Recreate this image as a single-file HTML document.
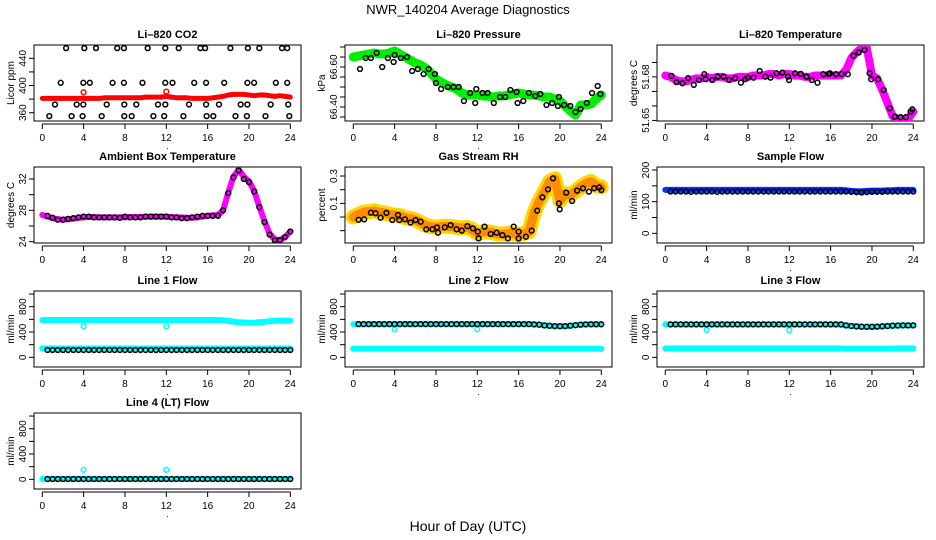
<!DOCTYPE html>
<html><head><meta charset="utf-8"><title>NWR_140204 Average Diagnostics</title>
<style>
html,body{margin:0;padding:0;background:#fff;}
svg{display:block;font-family:"Liberation Sans",Arial,sans-serif;}
</style></head>
<body>
<svg id="chart" width="936" height="540" viewBox="0 0 936 540" xmlns="http://www.w3.org/2000/svg">
<rect x="0" y="0" width="936" height="540" fill="#fff"/>
<text x="468" y="14" text-anchor="middle" font-size="13">NWR_140204  Average Diagnostics</text>
<text x="468" y="531" text-anchor="middle" font-size="14">Hour of Day (UTC)</text>
</svg>
<script>
// ---------- shared hour grids ----------
const H = [0,0.5,1,1.5,2,2.5,3,3.5,4,4.5,5,5.5,6,6.5,7,7.5,8,8.5,9,9.5,10,10.5,11,11.5,12,12.5,13,13.5,14,14.5,15,15.5,16,16.5,17,17.5,18,18.5,19,19.5,20,20.5,21,21.5,22,22.5,23,23.5,24];
const HB = [0.5,1,1.5,2,2.5,3,3.5,4,4.5,5,5.5,6,6.5,7,7.5,8,8.5,9,9.5,10,10.5,11,11.5,12,12.5,13,13.5,14,14.5,15,15.5,16,16.5,17,17.5,18,18.5,19,19.5,20,20.5,21,21.5,22,22.5,23,23.5,24];
const xTicks = [0,4,8,12,16,20,24];

// ---------- Li-820 CO2 ----------
const co2Band = [381,381,381,381,381,381,381,381,381,381, 381,381,382,382,382,382,382,382,382,382, 383,383,383,383,384,383,382,382,382,381, 381,381,381, 382,383,384,386,387,387,387,386,385,386,386,385,384,385,384,383];
const co2OutX = [4,12];
const co2OutY = [390,391];
const co2BlkX = [2.3,4.06,5.2,7.25,7.9,10.2,11.9,13.2,15.3,15.75,18.2,19.9,21.0,23.2,23.7, 1.78,3.97,4.6,6.8,7.9,9.7,11.9,12.6,14.7,15.85,17.6,19.85,20.5,22.6,23.7, 1.23,3.33,3.97,6.23,7.94,9.1,11.2,11.9,14.2,15.85,17.1,19.2,19.85,22.1,23.8, 0.68,2.84,3.9,5.75,7.94,8.65,10.75,11.8,13.65,15.9,16.55,18.7,19.8,21.6,23.9];
const co2BlkY = [455,455,455,455,455,455,455,455,455,455,455,455,455,455,455, 404,404,404,404,404,404,404,404,404,404,404,404,404,404,404, 372,372,372,372,372,372,372,372,372,372,372,372,372,372,372, 355,355,355,355,355,355,355,355,355,355,355,355,355,355,355];

// ---------- Li-820 Pressure ----------
const presBand = [66.65,66.655,66.66,66.665,66.67,66.665,66.665,66.67,66.68,66.665, 66.65,66.635,66.62,66.61,66.595,66.57,66.54,66.525,66.51,66.5, 66.49,66.47,66.46,66.46,66.46,66.455,66.455,66.45,66.455,66.455, 66.46,66.465,66.47,66.465,66.46,66.46,66.455,66.45,66.45,66.44, 66.43,66.405,66.38,66.36,66.41,66.41,66.415,66.44,66.46];
const presBlkX = [0.65,1.2,1.7,2.25,2.8,3.35,3.9,4,4.6,5.2,5.7,6.25,6.8,7.3,7.9,8,8.5,9.15,9.7,10.2,10.7,11.3,11.8,11.9,12.5,13,13.6,14.2,14.7,15.2,15.8,15.9,16.45,17,17.6,18.1,18.7,19.25,19.8,19.9,20.4,21,21.5,22,22.6,23.1,23.65,23.9];
const presBlkY = [66.59,66.645,66.645,66.67,66.6,66.645,66.625,66.66,66.645,66.65,66.58,66.59,66.565,66.59,66.565,66.52,66.49,66.5,66.5,66.5,66.43,66.47,66.42,66.49,66.47,66.47,66.42,66.45,66.45,66.485,66.475,66.42,66.43,66.47,66.455,66.465,66.41,66.42,66.405,66.45,66.41,66.405,66.375,66.39,66.42,66.47,66.505,66.465];

// ---------- Li-820 Temperature ----------
const tempBand = [51.681,51.680,51.678,51.677,51.677,51.678,51.679,51.679,51.680,51.679, 51.680,51.680,51.679,51.679,51.680,51.680,51.680,51.681,51.681,51.681, 51.682,51.682,51.681,51.682,51.682,51.681,51.681,51.680,51.680,51.681, 51.681,51.681,51.681,51.681,51.681, 51.685,51.693,51.697,51.700,51.700,51.681,51.679,51.671,51.662,51.653,51.651,51.651,51.651,51.656];
const tempBlkX = [0.59,1.07,1.66,2.21,2.76,3.25,3.77,3.9,4.55,5.07,5.63,6.18,6.76,7.32,7.74,7.97,8.55,9.14,9.69,10.18,10.76,11.32,11.87,11.97,12.55,13.1,13.66,14.18,14.73,15.28,15.8,15.93,16.52,17.07,17.66,18.21,18.73,19.28,19.77,19.93,20.59,21.14,21.72,22.21,22.76,23.28,23.74,23.9];
const tempBlkY = [51.6807,51.6764,51.6756,51.6791,51.6745,51.6779,51.6819,51.6784,51.6779,51.6802,51.6802,51.6779,51.6791,51.676,51.6784,51.6795,51.6795,51.6841,51.6802,51.6795,51.6825,51.683,51.6802,51.6779,51.6825,51.6821,51.6802,51.6779,51.676,51.6819,51.6821,51.6825,51.6819,51.6821,51.6819,51.6947,51.6968,51.6986,51.6825,51.6784,51.6784,51.671,51.6584,51.6526,51.6522,51.6522,51.6561,51.6577];

// ---------- Ambient Box Temperature ----------
const ambBand = [27.4,27.2,27.0,26.85,26.8,26.85,26.95,27.05,27.1,27.15, 27.15,27.1,27.1,27.1,27.1,27.1,27.1,27.15,27.15,27.15, 27.2,27.2,27.2,27.2,27.2,27.15,27.1,27.1,27.05,27.05, 27.1,27.2,27.3,27.35,27.4, 28.0,30.3,32.3,33.2,32.3,31.7,30.5,28.5,26.6,25.0,24.3,24.2,24.6,25.3];
const ambBlk = [27.3,27.05,26.8,26.8,26.9,27.0,27.1,27.2,27.2,27.1, 27.1,27.1,27.1,27.1,27.05,27.2,27.1,27.1,27.1,27.2, 27.2,27.2,27.2,27.2,27.1,27.1,27.0,27.0,27.1,27.2, 27.3,27.3,27.3,27.3,28.0,30.2,32.2,33.1,32.0,31.6, 30.4,28.4,26.5,24.9,24.2,24.2,24.6,25.3];

// ---------- Gas Stream RH ----------
const rhBand = [0.0,0.02,0.035,0.04,0.045,0.035,0.03,0.02,0.015,0.01, -0.005,-0.01,-0.02,-0.04,-0.06,-0.07,-0.075,-0.07,-0.066,-0.07, -0.075,-0.08,-0.075,-0.09,-0.12,-0.11,-0.107,-0.115,-0.124,-0.125, -0.12,-0.12,-0.13,-0.12,-0.107, 0.03,0.12,0.185,0.26,0.28,0.12,0.17,0.16,0.19,0.22,0.245,0.26,0.23,0.22];
const rhBlkX = [0.5,1.05,1.7,2.15,2.64,3.2,3.77,4.33,4.45,5.0,5.54,6.03,6.52,7.05,7.65,8.1,8.2,8.85,9.42,10,10.5,11.04,11.57,12.05,12.13,12.7,13.3,13.87,14.43,14.96,15.52,16.0,16.0,16.7,17.26,17.8,18.3,18.84,19.33,19.9,19.97,20.6,21.17,21.66,22.23,22.8,23.3,23.8,24];
const rhBlkY = [-0.02,-0.017,0.032,0.027,-0.005,0.03,-0.022,0.015,-0.022,-0.017,-0.04,-0.022,-0.034,-0.09,-0.09,-0.076,-0.115,-0.076,-0.059,-0.09,-0.1,-0.066,-0.083,-0.107,-0.156,-0.07,-0.124,-0.115,-0.132,-0.156,-0.07,-0.107,-0.156,-0.144,-0.1,0.046,0.144,0.202,0.283,0.1,0.056,0.178,0.117,0.193,0.21,0.185,0.21,0.217,0.198];

// ---------- Sample Flow ----------
const sampBand = [137,137,137,137,137,137,137,137,137,137, 137,137,137,137,137,137,137,137,137,137, 137,137,137,137,137,137,137,137,137,137, 137,137,137,137,137, 136,134,133,133,134,135,135,135,136,136,137,137,137,137];
const sampBlk = [132,132,132,132,131,132,132,132,132,131, 132,132,132,132,132,132,132,132,132,132, 132,132,132,132,132,132,132,132,132,132, 132,132,132,132,132,131,130,129,130,131, 131,131,132,132,132,132,132,132];

// ---------- Line 1 Flow ----------
const l1Upper = [590,590,590,590,590,590,590,590,590,590, 590,590,590,590,590,590,590,590,590,590, 590,590,590,590,590,590,590,590,590,590, 590,590,590,590,588, 585,575,565,555,550,545,545,555,560,570,575,580,580,580];
const l1Lower = [140,140,140,140,140,140,140,140,140,140, 140,140,140,140,140,140,140,140,140,140, 140,140,140,140,140,140,140,140,140,140, 140,140,140,140,140, 140,140,140,140,140,140,140,140,140,140,140,140,140,140];
const l1Blk = [116,116,116,116,116,116,116,116,116,116, 116,116,116,116,116,116,116,116,116,116, 116,116,116,116,116,116,116,116,116,116, 116,116,116,116,116,116,116,116,116,116, 116,116,116,116,116,116,116,116];
const l1OutX = [4,12];
const l1OutY = [490,490];

// ---------- Line 2 Flow ----------
const l2Upper = [525,525,525,525,525,525,525,525,525,525, 525,525,525,525,525,525,525,525,525,525, 525,525,525,525,525,525,525,525,525,525, 525,525,525,525,525, 520,515,505,498,494,492,494,500,508,515,520,522,522,522];
const l2Lower = [135,135,135,135,135,135,135,135,135,135, 135,135,135,135,135,135,135,135,135,135, 135,135,135,135,135,135,135,135,135,135, 135,135,135,135,135, 135,135,135,135,135,135,135,135,135,135,135,135,135,135];
const l2Blk = [525,525,525,525,525,525,525,525,525,525, 525,525,525,525,525,525,525,525,525,525, 525,525,525,525,525,525,525,525,525,525, 525,525,525,525,520,515,505,498,494,492, 494,500,508,515,520,522,522,522];
const l2OutX = [4,12];
const l2OutY = [442,442];

// ---------- Line 3 Flow ----------
const l3Upper = [520,520,520,520,520,520,520,520,520,520, 520,520,520,520,520,520,520,520,520,520, 520,520,520,520,520,520,520,520,520,520, 520,520,520,520,515, 505,495,488,484,482,482,485,490,495,500,503,505,505,505];
const l3Lower = [140,140,140,140,140,140,140,140,140,140, 140,140,140,140,140,140,140,140,140,140, 140,140,140,140,140,140,140,140,140,140, 140,140,140,140,140, 135,135,135,135,135,135,135,135,135,140,140,140,140,140];
const l3Blk = [520,520,520,520,520,520,520,520,520,520, 520,520,520,520,520,520,520,520,520,520, 520,520,520,520,520,520,520,520,520,520, 520,520,520,520,505,495,488,484,482,482, 485,490,495,500,503,505,505,505];
const l3OutX = [4,12];
const l3OutY = [432,432];

// ---------- Line 4 (LT) Flow ----------
const l4Band = [5,5,5,5,5,5,5,5,5,5, 5,5,5,5,5,5,5,5,5,5, 5,5,5,5,5,5,5,5,5,5, 5,5,5,5,5, 5,5,5,5,5,5,5,5,5,5,5,5,5,5];
const l4Blk = [5,5,5,5,5,5,5,5,5,5, 5,5,5,5,5,5,5,5,5,5, 5,5,5,5,5,5,5,5,5,5, 5,5,5,5,5,5,5,5,5,5, 5,5,5,5,5,5,5,5];
const l4OutX = [4,12];
const l4OutY = [150,150];

// ---------- layout ----------
const NS = 'http://www.w3.org/2000/svg';
const svg = document.getElementById('chart');
const COL_L = [34, 345, 657];
const ROW_T = [45, 167, 291, 413];
const PW = 267, PH = 76;

function mk(tag, parent) { const e = document.createElementNS(NS, tag); parent.appendChild(e); return e; }

function makePanel(key, col, row, title, ylab, ymin, ymax, yticks, ylabels) {
  const L = COL_L[col], T = ROW_T[row], B = T + PH;
  const g = mk('g', svg);
  
  
  const x = h => L + 8.3 + h * (248 / 24);
  const y = v => T + (ymax - v) / (ymax - ymin) * PH;
  const box = mk('rect', g);
  
  
  box.setAttribute('x', L); box.setAttribute('y', T); box.setAttribute('width', PW); box.setAttribute('height', PH);
  box.setAttribute('fill', 'none'); box.setAttribute('stroke', '#000'); box.setAttribute('stroke-width', '1');
  const t = mk('text', g);
  
  
  t.setAttribute('x', L + PW / 2); t.setAttribute('y', T - 7); t.setAttribute('text-anchor', 'middle');
  t.setAttribute('font-size', '11'); t.setAttribute('font-weight', 'bold');
  t.textContent = title;
  const yl = mk('text', g);
  
  
  yl.setAttribute('transform', 'translate(' + (L - 20) + ',' + (T + PH / 2) + ') rotate(-90)');
  yl.setAttribute('text-anchor', 'middle'); yl.setAttribute('font-size', '10');
  yl.textContent = ylab;
  // y axis
  const ya = mk('line', g);
  
  
  ya.setAttribute('x1', L); ya.setAttribute('x2', L);
  ya.setAttribute('y1', y(yticks[0])); ya.setAttribute('y2', y(yticks[yticks.length - 1]));
  ya.setAttribute('stroke', '#000');
  yticks.forEach(v => {
    const tk = mk('line', g);
    
    
    tk.setAttribute('x1', L - 5); tk.setAttribute('x2', L); tk.setAttribute('y1', y(v)); tk.setAttribute('y2', y(v));
    tk.setAttribute('stroke', '#000');
  });
  ylabels.forEach(v => {
    const tl = mk('text', g);
    
    
    tl.setAttribute('transform', 'translate(' + (L - 8) + ',' + y(v) + ') rotate(-90)');
    tl.setAttribute('text-anchor', 'middle'); tl.setAttribute('font-size', '10');
    tl.textContent = String(v);
  });
  // x axis
  const xa = mk('line', g);
  
  
  xa.setAttribute('x1', x(0)); xa.setAttribute('x2', x(24)); xa.setAttribute('y1', B + 3); xa.setAttribute('y2', B + 3);
  xa.setAttribute('stroke', '#000');
  xTicks.forEach(h => {
    const tk = mk('line', g);
    
    
    tk.setAttribute('x1', x(h)); tk.setAttribute('x2', x(h)); tk.setAttribute('y1', B + 3); tk.setAttribute('y2', B + 8);
    tk.setAttribute('stroke', '#000');
    const tl = mk('text', g);
    
    
    tl.setAttribute('x', x(h)); tl.setAttribute('y', B + 20); tl.setAttribute('text-anchor', 'middle'); tl.setAttribute('font-size', '10');
    tl.textContent = String(h);
  });
  const dot = mk('text', g);
  
  
  dot.setAttribute('x', L + PW / 2); dot.setAttribute('y', B + 28); dot.setAttribute('text-anchor', 'middle'); dot.setAttribute('font-size', '9');
  dot.textContent = '.';
  // clip
  const cp = mk('clipPath', g);
  cp.setAttribute('id', 'clip-' + key);
  const cr = mk('rect', cp);
  cr.setAttribute('x', L); cr.setAttribute('y', T); cr.setAttribute('width', PW); cr.setAttribute('height', PH);
  const data = mk('g', g);
  
  
  data.setAttribute('clip-path', 'url(#clip-' + key + ')');
  return { g: data, x, y, key };
}

function drawBand(p, xs, ys, color, w, name) {
  const pl = mk('polyline', p.g);
  
  
  pl.setAttribute('points', xs.map((h, i) => p.x(h).toFixed(1) + ',' + p.y(ys[i]).toFixed(1)).join(' '));
  pl.setAttribute('fill', 'none'); pl.setAttribute('stroke', color); pl.setAttribute('stroke-width', w);
  pl.setAttribute('stroke-linejoin', 'round'); pl.setAttribute('stroke-linecap', 'round');
}

function drawPts(p, xs, ys, color, name, r) {
  xs.forEach((h, i) => {
    const c = mk('circle', p.g);
    
    
    c.setAttribute('cx', p.x(h).toFixed(1)); c.setAttribute('cy', p.y(ys[i]).toFixed(1)); c.setAttribute('r', r || 2.4);
    c.setAttribute('fill', 'none'); c.setAttribute('stroke', color); c.setAttribute('stroke-width', '1.5');
  });
}

// Row 1
let p = makePanel('co2', 0, 0, 'Li\u2013820 CO2', 'Licor ppm', 347.8, 459.6, [360,380,400,420,440], [360,400,440]);
drawBand(p, H, co2Band, '#ff0000', 5, 'co2-red-series');
drawPts(p, co2OutX, co2OutY, '#ff0000', 'co2-red-outlier');
drawPts(p, co2BlkX, co2BlkY, '#000', 'co2-black-point');

p = makePanel('pressure', 1, 0, 'Li\u2013820 Pressure', 'kPa', 66.33, 66.71, [66.35,66.40,66.45,66.50,66.55,66.60,66.65,66.70], ['66.40','66.60']);
drawBand(p, H, presBand, '#00ee00', 9, 'pressure-green-series');
drawPts(p, presBlkX, presBlkY, '#000', 'pressure-black-point');

p = makePanel('temperature', 2, 0, 'Li\u2013820 Temperature', 'degrees C', 51.6496, 51.702, [51.65,51.66,51.67,51.68,51.69], ['51.65','51.68']);
drawBand(p, H, tempBand, '#ff00ff', 8, 'temperature-magenta-series');
drawPts(p, tempBlkX, tempBlkY, '#000', 'temperature-black-point');

// Row 2
p = makePanel('ambient', 0, 1, 'Ambient Box Temperature', 'degrees C', 23.83, 33.53, [24,26,28,30,32], [24,28,32]);
drawBand(p, H, ambBand, '#ff00ff', 6, 'ambient-magenta-series');
drawPts(p, HB, ambBlk, '#000', 'ambient-black-point');

p = makePanel('rh', 1, 1, 'Gas Stream RH', 'percent', -0.19, 0.366, [-0.1,0,0.1,0.2,0.3], ['\u22120.1','0.1','0.3']);
drawBand(p, H, rhBand, '#ffd700', 15, 'rh-yellow-series');
drawBand(p, H, rhBand, '#ff8c00', 9, 'rh-orange-series');
drawPts(p, rhBlkX, rhBlkY, '#000', 'rh-black-point');

p = makePanel('sample', 2, 1, 'Sample Flow', 'ml/min', -30.6, 209.5, [0,50,100,150,200], [0,100,200]);
drawBand(p, H, sampBand, '#0033ff', 6, 'sample-blue-series');
drawPts(p, HB, sampBlk, '#000', 'sample-black-point');

// Row 3
const flowTicks = [0,200,400,600,800,1000];
const flowLabels = [0,400,800];
p = makePanel('line1', 0, 2, 'Line 1 Flow', 'ml/min', -153, 1048, flowTicks, flowLabels);
drawBand(p, H, l1Upper, '#00ffff', 6, 'line1-cyan-upper');
drawBand(p, H, l1Lower, '#00ffff', 6, 'line1-cyan-lower');
drawPts(p, l1OutX, l1OutY, '#00ffff', 'line1-cyan-outlier');
drawPts(p, HB, l1Blk, '#000', 'line1-black-point');

p = makePanel('line2', 1, 2, 'Line 2 Flow', 'ml/min', -153, 1048, flowTicks, flowLabels);
drawBand(p, H, l2Upper, '#00ffff', 6, 'line2-cyan-upper');
drawBand(p, H, l2Lower, '#00ffff', 6, 'line2-cyan-lower');
drawPts(p, l2OutX, l2OutY, '#00ffff', 'line2-cyan-outlier');
drawPts(p, HB, l2Blk, '#000', 'line2-black-point');

p = makePanel('line3', 2, 2, 'Line 3 Flow', 'ml/min', -153, 1048, flowTicks, flowLabels);
drawBand(p, H, l3Upper, '#00ffff', 6, 'line3-cyan-upper');
drawBand(p, H, l3Lower, '#00ffff', 6, 'line3-cyan-lower');
drawPts(p, l3OutX, l3OutY, '#00ffff', 'line3-cyan-outlier');
drawPts(p, HB, l3Blk, '#000', 'line3-black-point');

// Row 4
p = makePanel('line4', 0, 3, 'Line 4 (LT) Flow', 'ml/min', -153, 1048, flowTicks, flowLabels);
drawBand(p, H, l4Band, '#00ffff', 6, 'line4-cyan-series');
drawPts(p, l4OutX, l4OutY, '#00ffff', 'line4-cyan-outlier');
drawPts(p, HB, l4Blk, '#000', 'line4-black-point');
</script>
</body></html>
